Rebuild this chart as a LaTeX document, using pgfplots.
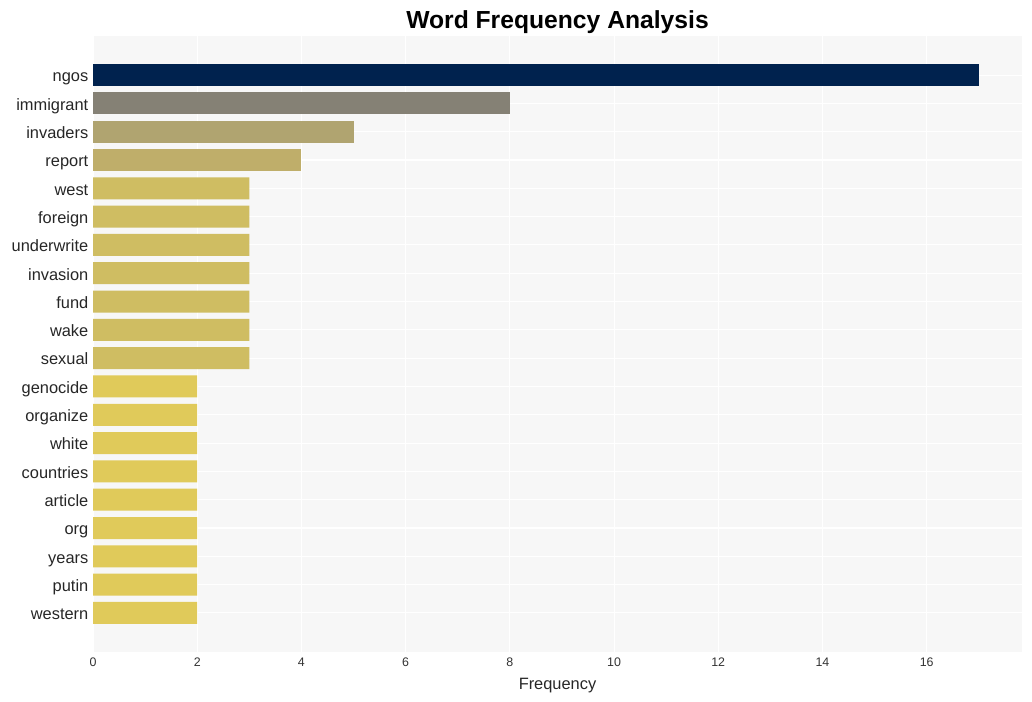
\documentclass[border=0pt]{standalone}
\usepackage{pgfplots}
\pgfplotsset{compat=1.18}
\usepackage{fontspec}
\setmainfont{Liberation Sans}
\definecolor{bgc}{HTML}{F7F7F7}
\definecolor{c17}{HTML}{00224E}
\definecolor{c8}{HTML}{858175}
\definecolor{c5}{HTML}{B0A470}
\definecolor{c4}{HTML}{BFAE6A}
\definecolor{c3}{HTML}{CFBD62}
\definecolor{c2}{HTML}{E0CA5A}
\begin{document}
\begin{tikzpicture}
\path[use as bounding box] (0pt,0pt) rectangle (774pt,525.75pt);
\begin{axis}[
  at={(69.75pt,36.75pt)}, anchor=south west,
  scale only axis, width=696.75pt, height=462pt,
  xbar, bar width=16.5pt, bar shift=0pt,
  xmin=0, xmax=17.83,
  ymin=-1.38, ymax=20.38, y dir=reverse,
  ytick={0,...,19},
  yticklabels={ngos,immigrant,invaders,report,west,foreign,underwrite,invasion,fund,wake,sexual,genocide,organize,white,countries,article,org,years,putin,western},
  xtick={0,2,...,16},
  typeset ticklabels with strut,
  axis background/.style={fill=bgc},
  axis line style={draw=none},
  major tick length=0pt,
  grid=major, major grid style={white, line width=0.8pt},
  /pgf/number format/assume math mode=true,
  xticklabel style={font=\fontsize{9.3}{10}\selectfont, text=black!80},
  yticklabel style={font=\fontsize{12.3}{13}\selectfont, text=black!85, xshift=0pt, yshift=-2.5pt},
  xlabel={Frequency}, xlabel style={font=\fontsize{12.3}{13}\selectfont, text=black!85, yshift=1pt},
  title={\textbf{Word Frequency Analysis}}, title style={font=\fontsize{18.5}{20}\selectfont, yshift=-8pt},
]
\addplot[fill=c17, draw=none] coordinates {(17,0)};
\addplot[fill=c8, draw=none] coordinates {(8,1)};
\addplot[fill=c5, draw=none] coordinates {(5,2)};
\addplot[fill=c4, draw=none] coordinates {(4,3)};
\addplot[fill=c3, draw=none] coordinates {(3,4) (3,5) (3,6) (3,7) (3,8) (3,9) (3,10)};
\addplot[fill=c2, draw=none] coordinates {(2,11) (2,12) (2,13) (2,14) (2,15) (2,16) (2,17) (2,18) (2,19)};
\end{axis}
\end{tikzpicture}
\end{document}
